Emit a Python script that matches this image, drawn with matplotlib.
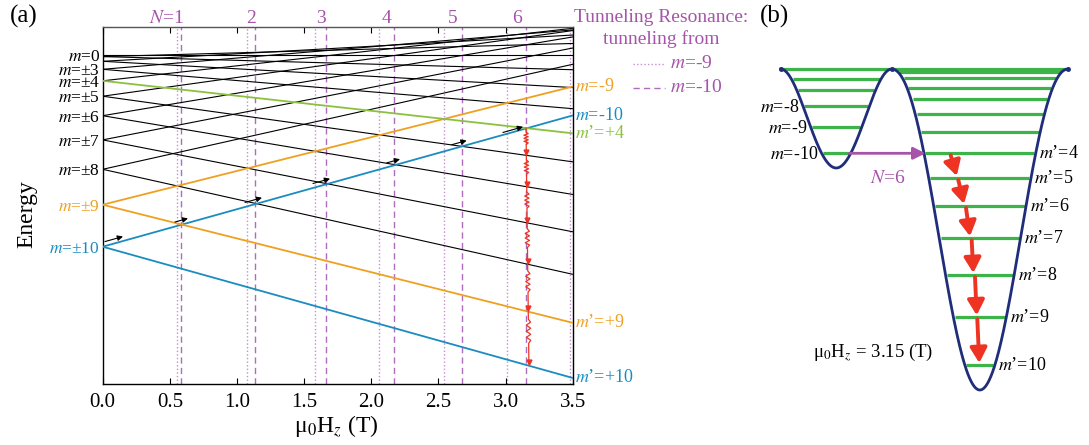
import numpy as np
import matplotlib
matplotlib.use('Agg')
import matplotlib.pyplot as plt
import matplotlib.transforms as mtransforms
from matplotlib.lines import Line2D
from matplotlib.patches import FancyArrowPatch

plt.rcParams['font.family'] = ['Liberation Serif', 'DejaVu Serif']
plt.rcParams['mathtext.fontset'] = 'stix'

W, H = 1089, 445

# ---------------------------------------------------------------------------
# Panel (a) data: Zeeman diagram, energies in arbitrary units
# ---------------------------------------------------------------------------
# zero-field energy of the |m| = 0 .. 10 doublets
zero_field_energy = [191.7, 190.1, 185.4, 177.4, 165.9, 150.5, 131.0, 106.8, 77.4, 42.0, 0.0]
zeeman_slope = 3.75          # energy per (m * tesla)
field_range = [0.0, 3.5]

# resonance fields (T)
res_from_m9 = [0.551, 1.074, 1.581, 2.060, 2.541, 3.013, 3.48]
res_from_m10 = [0.583, 1.134, 1.663, 2.169, 2.673, 3.152]

# little sweep arrows drawn along the m=-10 level
sweep_start = [0.017, 0.538, 1.060, 1.566, 2.115, 2.599, 2.980]
sweep_end = [0.151, 0.635, 1.186, 1.693, 2.214, 2.710, 3.130]

left_label_m = [0, 3, 4, 5, 6, 7, 8, 9, 10]
cascade_m = [4, 5, 6, 7, 8, 9, 10]      # relaxation m' = +4 -> +10

# ---------------------------------------------------------------------------
# Panel (b) data: double well at 3.15 T, depth of levels below barrier top
# ---------------------------------------------------------------------------
left_level_depth = [0.0, 10.0, 21.0, 36.7, 57.7, 84.3]           # ..., m=-8, -9, -10
right_level_depth = [0.0, 2.7, 9.3, 18.7, 30.3, 45.3, 63.3,
                     84.3, 109.0, 137.0, 169.3, 206.0, 248.3, 296.0]  # ..., m'=4..10
left_well_labels = ['$m$=-8', '$m$=-9', '$m$=-10']
right_well_labels = ['$m$’=%d' % k for k in range(4, 11)]
cascade_tail_x = [190.7, 198.3, 206.0, 211.7, 215.0, 217.3]
cascade_tip_x = [196.7, 204.0, 210.0, 213.3, 216.7, 219.3]

BLUE = '#1a8cc0'
ORANGE = '#f0a020'
GREEN = '#8cc13f'
PURPLE = '#a653aa'
PURPLE_DOT = '#c58fd0'
PURPLE_DASH = '#ad6cbd'
RED = '#ee3322'
NAVY = '#1f2d7a'
LEVEL_GREEN = '#3cb44a'

line_colors = {-10: BLUE, 10: BLUE, -9: ORANGE, 9: ORANGE, 4: GREEN}


def energy(m, h):
    return zero_field_energy[abs(m)] - zeeman_slope * m * np.asarray(h)


fig = plt.figure(figsize=(W / 100, H / 100), dpi=100)
px = mtransforms.Affine2D().scale(1.0 / W, -1.0 / H).translate(0, 1) + fig.transFigure

ax = fig.add_axes([102.7 / W, (H - 384.3) / H, 470 / W, 357.6 / H])
ax.set_xlim(*field_range)
ax.set_ylim(-137.6, 220)

# --- level lines ---
for m in range(-10, 11):
    col = line_colors.get(m, 'k')
    ax.plot(field_range, energy(m, field_range), color=col,
            lw=1.3 if m in line_colors else 0.8, zorder=3 if m in line_colors else 2)

# --- resonance markers ---
for h in res_from_m9:
    ax.axvline(h, color=PURPLE_DOT, lw=1.0, ls=(0, (1, 1.6)), zorder=1)
for h in res_from_m10:
    ax.axvline(h, color=PURPLE_DASH, lw=1.0, ls=(0, (4.5, 3)), zorder=1)

for n, (h9, h10) in enumerate(zip(res_from_m9, res_from_m10), start=1):
    mid = 0.5 * (h9 + h10)
    txt = '$N$=%d' % n if n == 1 else str(n)
    ax.annotate(txt, (mid, 1), xycoords=('data', 'axes fraction'),
                xytext=(4 if n == 1 else 0, 2.7), textcoords='offset points',
                ha='right' if n == 1 else 'center', va='baseline',
                color=PURPLE, fontsize=14, annotation_clip=False)

# --- sweep arrows above m=-10 ---
for h0, h1 in zip(sweep_start, sweep_end):
    off = 2.5 if h1 > 3 else 4.5
    ax.annotate('', xy=(h1, energy(-10, h1) + off), xytext=(h0, energy(-10, h0) + off),
                arrowprops=dict(arrowstyle='-|>', color='k', lw=0.8,
                                mutation_scale=8, shrinkA=0, shrinkB=0), zorder=5)

# --- relaxation cascade (red) ---
h_top = res_from_m10[-1]
e_levels = [float(energy(m, h_top)) for m in cascade_m]
e_span = e_levels[0] - e_levels[-1]


def drift(e):
    return h_top + 0.022 * (e_levels[0] - e) / e_span


amp = 0.016
xs, ys = [drift(e_levels[0])], [e_levels[0]]
for e_hi, e_lo in zip(e_levels[:-1], e_levels[1:]):
    gap = e_hi - e_lo
    zz = np.linspace(e_hi - 0.15 * gap, e_hi - 0.6 * gap, 9)
    sign = np.array([0, 1, -1, 1, -1, 1, -1, 1, 0])
    xs += list(drift(zz) + amp * sign)
    ys += list(zz)
    xs.append(drift(e_lo + 1))
    ys.append(e_lo + 1)
ax.plot(xs, ys, color=RED, lw=0.9, zorder=6)
ax.plot([drift(e + 3) for e in e_levels[1:]], [e + 3 for e in e_levels[1:]],
        'v', color=RED, ms=3.5, zorder=6)

# --- labels at H=0 ---
for k in left_label_m:
    col = BLUE if k == 10 else ORANGE if k == 9 else 'k'
    txt = '$m$=0' if k == 0 else '$m$=±%d' % k
    ax.annotate(txt, (0, zero_field_energy[k]), xytext=(-2, 0), textcoords='offset points',
                ha='right', va='center_baseline', fontsize=12.5, color=col,
                annotation_clip=False)

# --- labels at H=3.5 ---
right_labels = [(-9, '$m$=-9', ORANGE), (-10, '$m$=-10', BLUE), (4, '$m$’=+4', GREEN),
                (9, '$m$’=+9', ORANGE), (10, '$m$’=+10', BLUE)]
for m, txt, col in right_labels:
    ax.annotate(txt, (3.5, energy(m, 3.5)), xytext=(1.5, 0), textcoords='offset points',
                ha='left', va='center', fontsize=13, color=col, annotation_clip=False)

ax.set_xticks(np.arange(0, 3.51, 0.5))
ax.set_xticklabels(['%.1f' % v for v in np.arange(0, 3.51, 0.5)])
ax.set_yticks([])
ax.tick_params(axis='x', direction='in', top=True, length=4, width=0.8,
               labelsize=15, pad=6)
for sp in ax.spines.values():
    sp.set_linewidth(1.0)
ax.spines['top'].set_color('#555555')
ax.set_xlabel('μ$_0$H$_z$ (T)', fontsize=17)
ax.xaxis.set_label_coords(0.496, -0.08)
ax.set_ylabel('Energy', fontsize=17)
ax.yaxis.set_label_coords(-0.14, 0.476)

# --- legend block ---
fig.text(661, 17, 'Tunneling Resonance:', transform=px, ha='center', va='center',
         color=PURPLE, fontsize=14)
fig.text(661, 39, 'tunneling from', transform=px, ha='center', va='center',
         color=PURPLE, fontsize=14)
fig.add_artist(Line2D([633, 665], [64, 64], transform=px, color=PURPLE_DOT,
                      lw=1.0, ls=(0, (1, 1.6))))
fig.add_artist(Line2D([633, 665], [88, 88], transform=px, color=PURPLE_DASH,
                      lw=1.0, ls=(0, (4.5, 3))))
fig.text(670, 63, '$m$=-9', transform=px, ha='left', va='center', color=PURPLE, fontsize=14)
fig.text(670, 87, '$m$=-10', transform=px, ha='left', va='center', color=PURPLE, fontsize=14)

fig.text(10, 16, '(a)', transform=px, ha='left', va='center', fontsize=18)
fig.text(760, 16, '(b)', transform=px, ha='left', va='center', fontsize=18)

# ---------------------------------------------------------------------------
# Panel (b): schematic double well
# ---------------------------------------------------------------------------
axb = fig.add_axes([760 / W, (H - 429) / H, 329 / W, 400 / H])
axb.set_xlim(0, 329)
axb.set_ylim(-360, 40)
axb.axis('off')

x_left, x_barrier, x_right = 20.7, 131.7, 308.0
shallow_depth, deep_depth = 99.0, 321.0

tilt = 0.7
theta_b = np.arccos(-tilt / 2)


def shape(t):
    return -np.cos(t) ** 2 - tilt * np.cos(t)


f_b = shape(theta_b)
t1 = np.linspace(theta_b, 2 * np.pi - theta_b, 301)
x1 = x_left + (t1 - theta_b) / (2 * np.pi - 2 * theta_b) * (x_barrier - x_left)
y1 = (shape(t1) - f_b) / (f_b - shape(np.pi)) * shallow_depth
t2 = np.linspace(-theta_b, theta_b, 401)
x2 = x_barrier + (t2 + theta_b) / (2 * theta_b) * (x_right - x_barrier)
y2 = (shape(t2) - f_b) / (f_b - shape(0.0)) * deep_depth

axb.plot(np.r_[x1, x2], np.r_[y1, y2], color=NAVY, lw=2.0, zorder=3)
axb.plot([x_left, x_barrier, x_right], [0, 0, 0], 'o', color=NAVY, ms=2.5, zorder=3)


def branches(x, y):
    i = np.argmin(y)
    return (x[:i + 1][::-1], y[:i + 1][::-1]), (x[i:], y[i:])


def span(x, y, e):
    (xl, yl), (xr, yr) = branches(x, y)
    return np.interp(e, yl, xl) + 1.5, np.interp(e, yr, xr) - 1.5


left_spans = [span(x1, y1, -d) for d in left_level_depth]
right_spans = [span(x2, y2, -d) for d in right_level_depth]
for d, (a, b) in zip(left_level_depth, left_spans):
    axb.plot([a, b], [-d, -d], color=LEVEL_GREEN, lw=2.3, zorder=2, solid_capstyle='butt')
for d, (a, b) in zip(right_level_depth, right_spans):
    axb.plot([a, b], [-d, -d], color=LEVEL_GREEN, lw=2.3, zorder=2, solid_capstyle='butt')

for txt, d, (a, b) in zip(left_well_labels, left_level_depth[-3:], left_spans[-3:]):
    axb.text(a - 5, -d - 1.5, txt, ha='right', va='center', fontsize=13)
for txt, d, (a, b) in zip(right_well_labels, right_level_depth[-7:], right_spans[-7:]):
    axb.text(b + 5, -d, txt, ha='left', va='center', fontsize=13)

# tunneling arrow m=-10 -> m'=4
d_tun = left_level_depth[-1]
axb.add_patch(FancyArrowPatch((left_spans[-1][1], -d_tun), (right_spans[7][0], -d_tun),
                              arrowstyle='-|>', color=PURPLE, lw=2.0, mutation_scale=18,
                              shrinkA=0, shrinkB=0, zorder=4))
axb.text(0.5 * (left_spans[-1][1] + right_spans[7][0]), -d_tun - 25, '$N$=6',
         ha='center', va='center', color=PURPLE, fontsize=14)

# relaxation cascade
casc = right_level_depth[-7:]
for tx, hx, d_hi, d_lo in zip(cascade_tail_x, cascade_tip_x, casc[:-1], casc[1:]):
    axb.add_patch(FancyArrowPatch((tx, -d_hi - 2), (hx, -d_lo + 2),
                                  arrowstyle='-|>,head_length=0.5,head_width=0.28',
                                  color=RED, lw=2.8, mutation_scale=18,
                                  shrinkA=0, shrinkB=0, zorder=4))

axb.text(52.7, -282.7, 'μ$_0$H$_z$ = 3.15 (T)', ha='left', va='center', fontsize=13.5)

fig.savefig('out.png', dpi=100)
